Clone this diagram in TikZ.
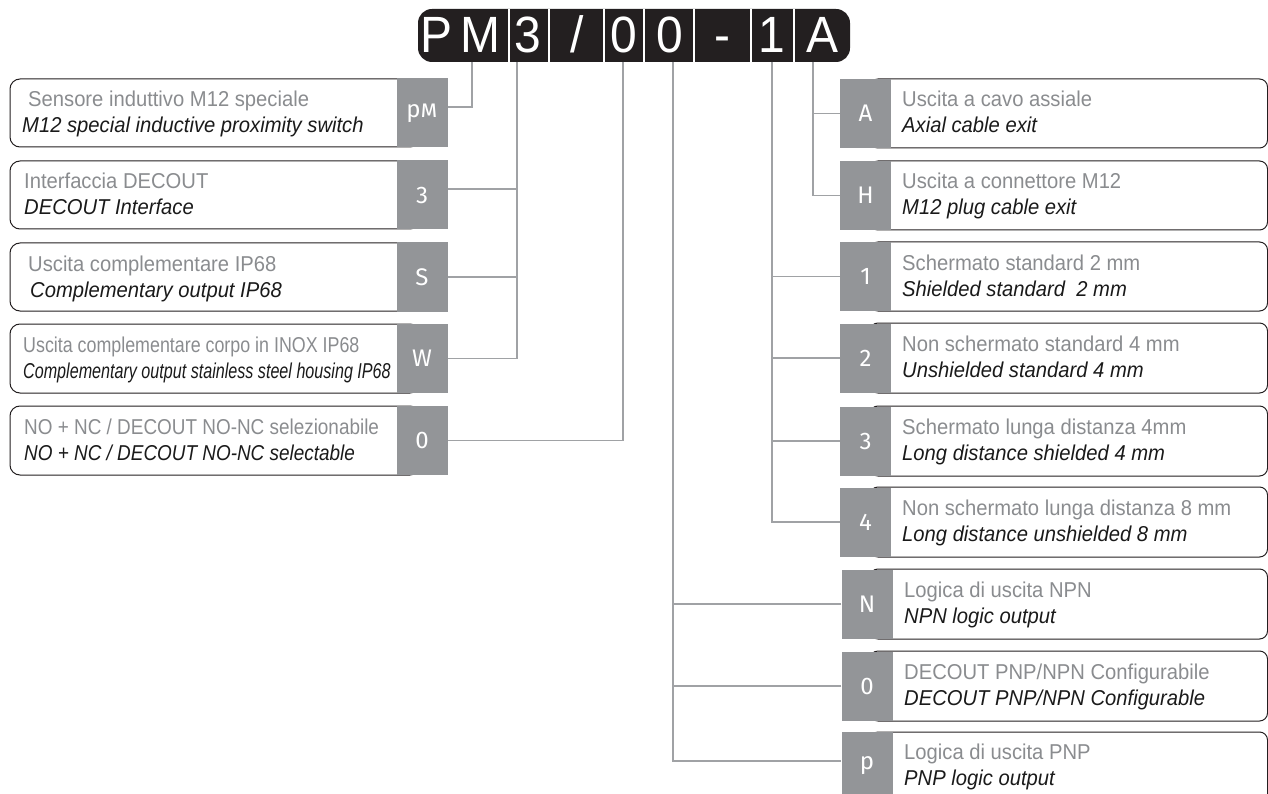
\documentclass[tikz,border=0pt]{standalone}
\usepackage{fontspec}
\setmainfont{Liberation Sans}[FakeStretch=0.94]
\newfontfamily\narrowfont{Liberation Sans}[FakeStretch=0.83]
\newfontfamily\narrowerfont{Liberation Sans}[FakeStretch=0.75]
\newfontfamily\slimfont{Liberation Sans}[FakeStretch=0.88]
\newfontfamily\codefont{Fira Sans}
\usepackage{tikz}

\definecolor{barblack}{HTML}{231F20}
\definecolor{boxgray}{HTML}{939598}
\definecolor{wiregray}{HTML}{A0A2A5}
\definecolor{textgray}{HTML}{8A8C8F}
\definecolor{inkblack}{HTML}{1A1A1A}

\tikzset{
  codeletter/.style={text=white, inner sep=0pt, anchor=base, font=\fontsize{51pt}{51pt}\selectfont},
  codebox/.style={fill=boxgray, text=white, inner sep=0pt, minimum width=51pt, minimum height=69pt, font=\codefont\fontsize{24pt}{24pt}\selectfont},
  frame/.style={draw=barblack, line width=1pt, rounded corners=10pt},
  grline/.style={anchor=base west, inner sep=0pt, text=textgray, font=\fontsize{21.5pt}{26pt}\selectfont},
  itline/.style={anchor=base west, inner sep=0pt, text=inkblack, font=\fontsize{21.5pt}{26pt}\selectfont\itshape},
  wire/.style={draw=wiregray, line width=1.8pt},
}

\begin{document}
\begin{tikzpicture}[x=1pt,y=-1pt]
\useasboundingbox (0,0) rectangle (1268,794);
\clip (0,0) rectangle (1268,794);

% product code
\fill[barblack, rounded corners=14pt] (418,9) rectangle (850,62);
\draw[white, line width=2pt] (509,9) -- (509,62);
\draw[white, line width=2pt] (549,9) -- (549,62);
\draw[white, line width=2pt] (604,9) -- (604,62);
\draw[white, line width=2pt] (644,9) -- (644,62);
\draw[white, line width=2pt] (694,9) -- (694,62);
\draw[white, line width=2pt] (751,9) -- (751,62);
\draw[white, line width=2pt] (794,9) -- (794,62);
\node[codeletter] (cP) at (436,53) {P};
\node[codeletter] (cM) at (480,53) {M};
\node[codeletter] (c3) at (528,53) {3};
\node[codeletter] (cslash) at (577,53) {/};
\node[codeletter] (c0a) at (624,53) {0};
\node[codeletter] (c0b) at (670,53) {0};
\node[codeletter] (cdash) at (722,53) {-};
\node[codeletter] (c1) at (772,53) {1};
\node[codeletter] (cA) at (822,53) {A};
\coordinate (dPM) at (472,62);
\coordinate (d3) at (517,62);
\coordinate (d0a) at (623,62);
\coordinate (d0b) at (673,62);
\coordinate (d1) at (772,62);
\coordinate (dA) at (813,62);

% left column
\draw[frame] (10,79) rectangle (420,147);
\draw[frame] (10,161) rectangle (420,229);
\draw[frame] (10,243) rectangle (420,311);
\draw[frame] (10,324) rectangle (420,393);
\draw[frame] (10,406) rectangle (420,475);
\node[codebox] (bPM) at (422,113) {p\textsc{m}};
\node[codebox] (b3) at (422,195) {3};
\node[codebox] (bS) at (422,277) {S};
\node[codebox] (bW) at (422,358.5) {W};
\node[codebox] (b0) at (422,440.5) {0};
\node[grline] (tPM) at (28,107) {Sensore induttivo M12 speciale};
\node[itline] (iPM) at (22,133) {M12 special inductive proximity switch};
\node[grline] (t3) at (24,189) {Interfaccia DECOUT};
\node[itline] (i3) at (24,215) {DECOUT Interface};
\node[grline] (tS) at (28,271) {Uscita complementare IP68};
\node[itline] (iS) at (30,297) {Complementary output IP68};
\node[grline, font=\narrowfont\fontsize{21.5pt}{26pt}\selectfont] (tW) at (23,352) {Uscita complementare corpo in INOX IP68};
\node[itline, font=\narrowerfont\fontsize{21.5pt}{26pt}\selectfont\itshape] (iW) at (23,378) {Complementary output stainless steel housing IP68};
\node[grline, font=\slimfont\fontsize{21.5pt}{26pt}\selectfont] (t0) at (24,434) {NO + NC / DECOUT NO-NC selezionabile};
\node[itline, font=\slimfont\fontsize{21.5pt}{26pt}\selectfont\itshape] (i0) at (24,460) {NO + NC / DECOUT NO-NC selectable};

% right column
\draw[frame, rounded corners=8pt] (870,79) rectangle (1267.5,148);
\draw[frame, rounded corners=8pt] (870,161) rectangle (1267.5,230);
\draw[frame, rounded corners=8pt] (870,242) rectangle (1267.5,311);
\draw[frame, rounded corners=8pt] (870,323) rectangle (1267.5,393);
\draw[frame, rounded corners=8pt] (870,406) rectangle (1267.5,476);
\draw[frame, rounded corners=8pt] (870,487) rectangle (1267.5,557);
\draw[frame, rounded corners=8pt] (870,569) rectangle (1267.5,639);
\draw[frame, rounded corners=8pt] (870,651) rectangle (1267.5,721);
\draw[frame, rounded corners=8pt] (870,732) rectangle (1267.5,802);
\node[codebox] (bA) at (865.5,113.5) {A};
\node[codebox] (bH) at (865.5,195.5) {H};
\node[codebox] (b1) at (865.5,276.5) {1};
\node[codebox] (b2) at (865.5,358) {2};
\node[codebox] (b3r) at (865.5,441) {3};
\node[codebox] (b4) at (865.5,522) {4};
\node[codebox] (bN) at (867,604) {N};
\node[codebox] (b0r) at (867,686) {0};
\node[codebox] (bP) at (867,766) {p};
\node[grline] (tA) at (902,107) {Uscita a cavo assiale};
\node[itline] (iA) at (902,133) {Axial cable exit};
\node[grline] (tH) at (902,189) {Uscita a connettore M12};
\node[itline] (iH) at (902,215) {M12 plug cable exit};
\node[grline] (t1) at (902,270) {Schermato standard 2 mm};
\node[itline] (i1) at (902,296) {Shielded standard~ 2 mm};
\node[grline] (t2) at (902,351) {Non schermato standard 4 mm};
\node[itline] (i2) at (902,377) {Unshielded standard 4 mm};
\node[grline] (t3r) at (902,434) {Schermato lunga distanza 4mm};
\node[itline] (i3r) at (902,460) {Long distance shielded 4 mm};
\node[grline] (t4) at (902,515) {Non schermato lunga distanza 8 mm};
\node[itline] (i4) at (902,541) {Long distance unshielded 8 mm};
\node[grline] (tN) at (904,597) {Logica di uscita NPN};
\node[itline] (iN) at (904,623) {NPN logic output};
\node[grline] (t0r) at (904,679) {DECOUT PNP/NPN Configurabile};
\node[itline] (i0r) at (904,705) {DECOUT PNP/NPN Configurable};
\node[grline] (tP) at (904,759) {Logica di uscita PNP};
\node[itline] (iP) at (904,785) {PNP logic output};

% connectors
\draw[wire] ([yshift=6pt]bPM.east) -| (dPM);
\draw[wire] (d3) |- (bW.east);
\draw[wire] ([yshift=6pt]b3.east) -- ([yshift=6pt]b3.east -| d3);
\draw[wire] (bS.east) -- (bS.east -| d3);
\draw[wire] (d0a) |- (b0.east);
\draw[wire] (dA) |- (bH.west);
\draw[wire] (bA.west) -- (bA.west -| dA);
\draw[wire] (d1) |- (b4.west);
\draw[wire] (b1.west) -- (b1.west -| d1);
\draw[wire] (b2.west) -- (b2.west -| d1);
\draw[wire] (b3r.west) -- (b3r.west -| d1);
\draw[wire] (d0b) |- ([yshift=5pt]bP.west);
\draw[wire] (bN.west) -- (bN.west -| d0b);
\draw[wire] (b0r.west) -- (b0r.west -| d0b);
\end{tikzpicture}
\end{document}
